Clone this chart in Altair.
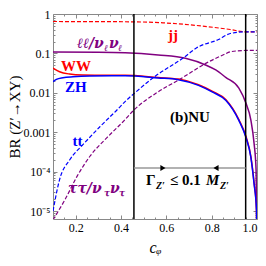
import altair as alt
import pandas as pd

# ---------------- data ----------------
jj_c = [0.10, 0.30, 0.44, 0.585, 0.734, 0.882, 0.949, 1.00]
jj_v = [0.645, 0.640, 0.634, 0.598, 0.511, 0.404, 0.353, 0.353]

ll_c = [0.10, 0.30, 0.418, 0.564, 0.684, 0.773, 0.818, 0.862, 0.920, 0.951, 0.973, 0.987, 0.996, 1.00]
ll_v = [0.108, 0.107, 0.104, 0.091, 0.075, 0.051, 0.038, 0.0247, 0.0132, 0.0055, 0.00204, 0.00053, 0.00011, 0.000001]

ww_c = [0.10, 0.129, 0.173, 0.232, 0.336, 0.418, 0.564, 0.653, 0.742, 0.804, 0.862, 0.920, 0.951, 0.973, 0.987, 0.998, 1.00]
ww_v = [0.0425, 0.0343, 0.0300, 0.0283, 0.0278, 0.0280, 0.0245, 0.0223, 0.0161, 0.0109, 0.0068, 0.0021, 0.00079, 0.00024, 0.000053, 0.000011, 0.000001]

zh_c = [0.10, 0.115, 0.144, 0.188, 0.262, 0.418, 0.564, 0.653, 0.742, 0.804, 0.862, 0.920, 0.951, 0.973, 0.987, 0.998, 1.00]
zh_v = [0.0191, 0.0220, 0.0242, 0.0256, 0.0267, 0.0270, 0.0238, 0.0216, 0.0155, 0.0104, 0.0065, 0.0020, 0.00075, 0.00023, 0.000050, 0.0000105, 0.000001]

tt_c = [0.10, 0.129, 0.174, 0.233, 0.308, 0.382, 0.418, 0.463, 0.551, 0.675, 0.734, 0.830, 0.882, 0.949, 1.00]
tt_v = [1.0e-5, 6.3e-5, 2.0e-4, 4.9e-4, 1.4e-3, 3.66e-3, 6.0e-3, 0.0102, 0.0264, 0.0773, 0.139, 0.225, 0.320, 0.353, 0.353]

ta_c = [0.10, 0.153, 0.206, 0.263, 0.337, 0.411, 0.460, 0.557, 0.663, 0.778, 0.854, 0.882, 0.949, 1.00]
ta_v = [6.0e-6, 1.96e-5, 7.6e-5, 2.46e-4, 7.2e-4, 1.9e-3, 3.8e-3, 0.0100, 0.0227, 0.0576, 0.0935, 0.110, 0.119, 0.120]

x_ticks = [0.2, 0.4, 0.6, 0.8, 1.0]
x_minor = [0.15, 0.25, 0.3, 0.35, 0.45, 0.5, 0.55, 0.65, 0.7, 0.75, 0.85, 0.9, 0.95]
y_ticks = [1.0, 0.1, 0.01, 0.001, 0.0001, 0.00001]
y_minor = [m * 10.0 ** e for e in range(-6, 0) for m in range(2, 10)]

bounds_c = [0.457, 0.950]
width_bound = 1.24e-4
arrow_c = [0.585, 0.819]

FONT = "Liberation Serif"
GFONT = "DejaVu Serif"
RED, BLUE, PURPLE = "#ff0000", "#0000ff", "#800080"
FRAME = "#888888"

x_scale = alt.Scale(domain=[0.1, 1.0], nice=False, zero=False)
y_scale = alt.Scale(type="log", domain=[6.3e-6, 1.0], nice=False)

x_axis = alt.Axis(orient="bottom", values=x_ticks, format=".1f", grid=False, domain=False,
                  tickSize=4, offset=-4, tickColor=FRAME, labelPadding=3,
                  labelFont=FONT, labelFontSize=12, labelColor="black",
                  title="cᵩ", titleFont=FONT, titleFontSize=16,
                  titleFontStyle="italic", titleFontWeight="normal",
                  titleColor="black", titlePadding=6)
y_axis = alt.Axis(orient="left", values=y_ticks, grid=False, domain=False,
                  tickSize=4, offset=-4, tickColor=FRAME, labelPadding=3,
                  labelFont=FONT, labelFontSize=12, labelColor="black",
                  labelExpr="datum.value > 0.5 ? '1' : datum.value > 0.05 ? '0.1' : datum.value > 0.005 ? '0.01' : datum.value > 0.0005 ? '0.001' : datum.value > 0.00005 ? '10⁻⁴' : '10⁻⁵'",
                  title="BR (Z′→XY)", titleFont=FONT, titleFontSize=15,
                  titleFontWeight="normal", titleColor="black", titlePadding=1)


def tick_axis(orient, values, size):
    return alt.Axis(orient=orient, values=values, grid=False, domain=False,
                    labels=False, title=None, tickSize=size, offset=-size,
                    tickColor=FRAME, tickWidth=1)


series = [
    (jj_c, jj_v, RED, [4, 2], 1.2),
    (ll_c, ll_v, PURPLE, None, 1.5),
    (ww_c, ww_v, RED, None, 1.5),
    (zh_c, zh_v, BLUE, None, 1.5),
    (tt_c, tt_v, BLUE, [4, 2], 1.2),
    (ta_c, ta_v, PURPLE, [4, 2], 1.2),
]

layers = []
for cs, vs, col, dash, sw in series:
    df = pd.DataFrame({"c": cs, "v": vs})
    kw = dict(color=col, strokeWidth=sw, clip=True, interpolate="monotone")
    if dash:
        kw["strokeDash"] = dash
    layers.append(
        alt.Chart(df).mark_line(**kw).encode(
            x=alt.X("c:Q", scale=x_scale, axis=x_axis),
            y=alt.Y("v:Q", scale=y_scale, axis=y_axis),
        )
    )

# vertical boundaries
layers.append(
    alt.Chart(pd.DataFrame({"c": bounds_c})).mark_rule(color="black", strokeWidth=1.5).encode(
        x=alt.X("c:Q", scale=x_scale, axis=x_axis)
    )
)
# width bound line with arrows
layers.append(
    alt.Chart(pd.DataFrame({"c1": [bounds_c[0]], "c2": [bounds_c[1]], "v": [width_bound]}))
    .mark_rule(color="#999999", strokeWidth=1.5)
    .encode(x=alt.X("c1:Q", scale=x_scale, axis=x_axis), x2="c2:Q",
            y=alt.Y("v:Q", scale=y_scale, axis=y_axis))
)
layers.append(
    alt.Chart(pd.DataFrame({"c": arrow_c, "v": [width_bound] * 2,
                            "s": ["triangle-right", "triangle-left"]}))
    .mark_point(filled=True, color="black", size=35, opacity=1)
    .encode(x=alt.X("c:Q", scale=x_scale, axis=x_axis),
            y=alt.Y("v:Q", scale=y_scale, axis=y_axis),
            shape=alt.Shape("s:N", scale=None))
)


def txt(c, v, s, color, size, weight="bold", style="normal", dx=0, dy=0,
        align="left", baseline="alphabetic", font=FONT):
    return alt.Chart(pd.DataFrame({"c": [c], "v": [v], "t": [s]})).mark_text(
        color=color, fontSize=size, fontWeight=weight, fontStyle=style, font=font,
        dx=dx, dy=dy, align=align, baseline=baseline
    ).encode(x=alt.X("c:Q", scale=x_scale, axis=x_axis),
             y=alt.Y("v:Q", scale=y_scale, axis=y_axis), text="t:N")


layers += [
    txt(0.629, 0.293, "jj", RED, 15, align="center", baseline="middle"),
    txt(0.201, 0.048, "WW", RED, 15, align="center", baseline="middle"),
    txt(0.201, 0.01406, "ZH", BLUE, 15, align="center", baseline="middle"),
    txt(0.208, 6.0e-4, "tt", BLUE, 15, align="center", baseline="middle"),
    txt(0.704, 2.44e-3, "(b)NU", "black", 15, align="center", baseline="middle"),
    # ll / nu_l nu_l
    txt(0.206, 0.141, "ℓℓ/ν", PURPLE, 14, style="italic", font=GFONT),
    txt(0.206, 0.141, "ℓ", PURPLE, 9, style="italic", dx=27, dy=3, font=GFONT),
    txt(0.206, 0.141, "ν", PURPLE, 14, style="italic", dx=32, font=GFONT),
    txt(0.206, 0.141, "ℓ", PURPLE, 9, style="italic", dx=41, dy=3, font=GFONT),
    # tau tau / nu_tau nu_tau
    txt(0.166, 2.96e-5, "ττ/ν", PURPLE, 14, style="italic", font=GFONT),
    txt(0.166, 2.96e-5, "τ", PURPLE, 9, style="italic", dx=36, dy=3, font=GFONT),
    txt(0.166, 2.96e-5, "ν", PURPLE, 14, style="italic", dx=42, font=GFONT),
    txt(0.166, 2.96e-5, "τ", PURPLE, 9, style="italic", dx=51, dy=3, font=GFONT),
    # Gamma_Z' <= 0.1 M_Z'
    txt(0.51, 4.59e-5, "Γ", "black", 15),
    txt(0.51, 4.59e-5, "Z′", "black", 10, style="italic", dx=10, dy=4),
    txt(0.51, 4.59e-5, "≤ 0.1", "black", 15, dx=24),
    txt(0.51, 4.59e-5, "M", "black", 15, style="italic", dx=60),
    txt(0.51, 4.59e-5, "Z′", "black", 10, style="italic", dx=74, dy=4),
]

main = alt.layer(*layers)

# extra tick-only axes (frame ticks on all four sides, minor ticks)
tick_src = pd.DataFrame({"c": jj_c, "v": jj_v})


def tick_layer(xo, xv, xs, yo, yv, ys):
    return alt.Chart(tick_src).mark_point(opacity=0).encode(
        x=alt.X("c:Q", scale=x_scale, axis=tick_axis(xo, xv, xs)),
        y=alt.Y("v:Q", scale=y_scale, axis=tick_axis(yo, yv, ys)),
    )


chart = alt.layer(
    main,
    tick_layer("top", x_ticks, 4, "right", y_ticks, 4),
    tick_layer("bottom", x_minor, 2, "left", y_minor, 2),
    tick_layer("top", x_minor, 2, "right", y_minor, 2),
).properties(
    width=204, height=205,
    autosize=alt.AutoSizeParams(type="none"),
    padding={"left": 45, "top": 6, "right": 1, "bottom": 39},
).configure_view(stroke=FRAME, strokeWidth=1)

chart.save("out.html", embed_options={"renderer": "svg", "actions": False})
